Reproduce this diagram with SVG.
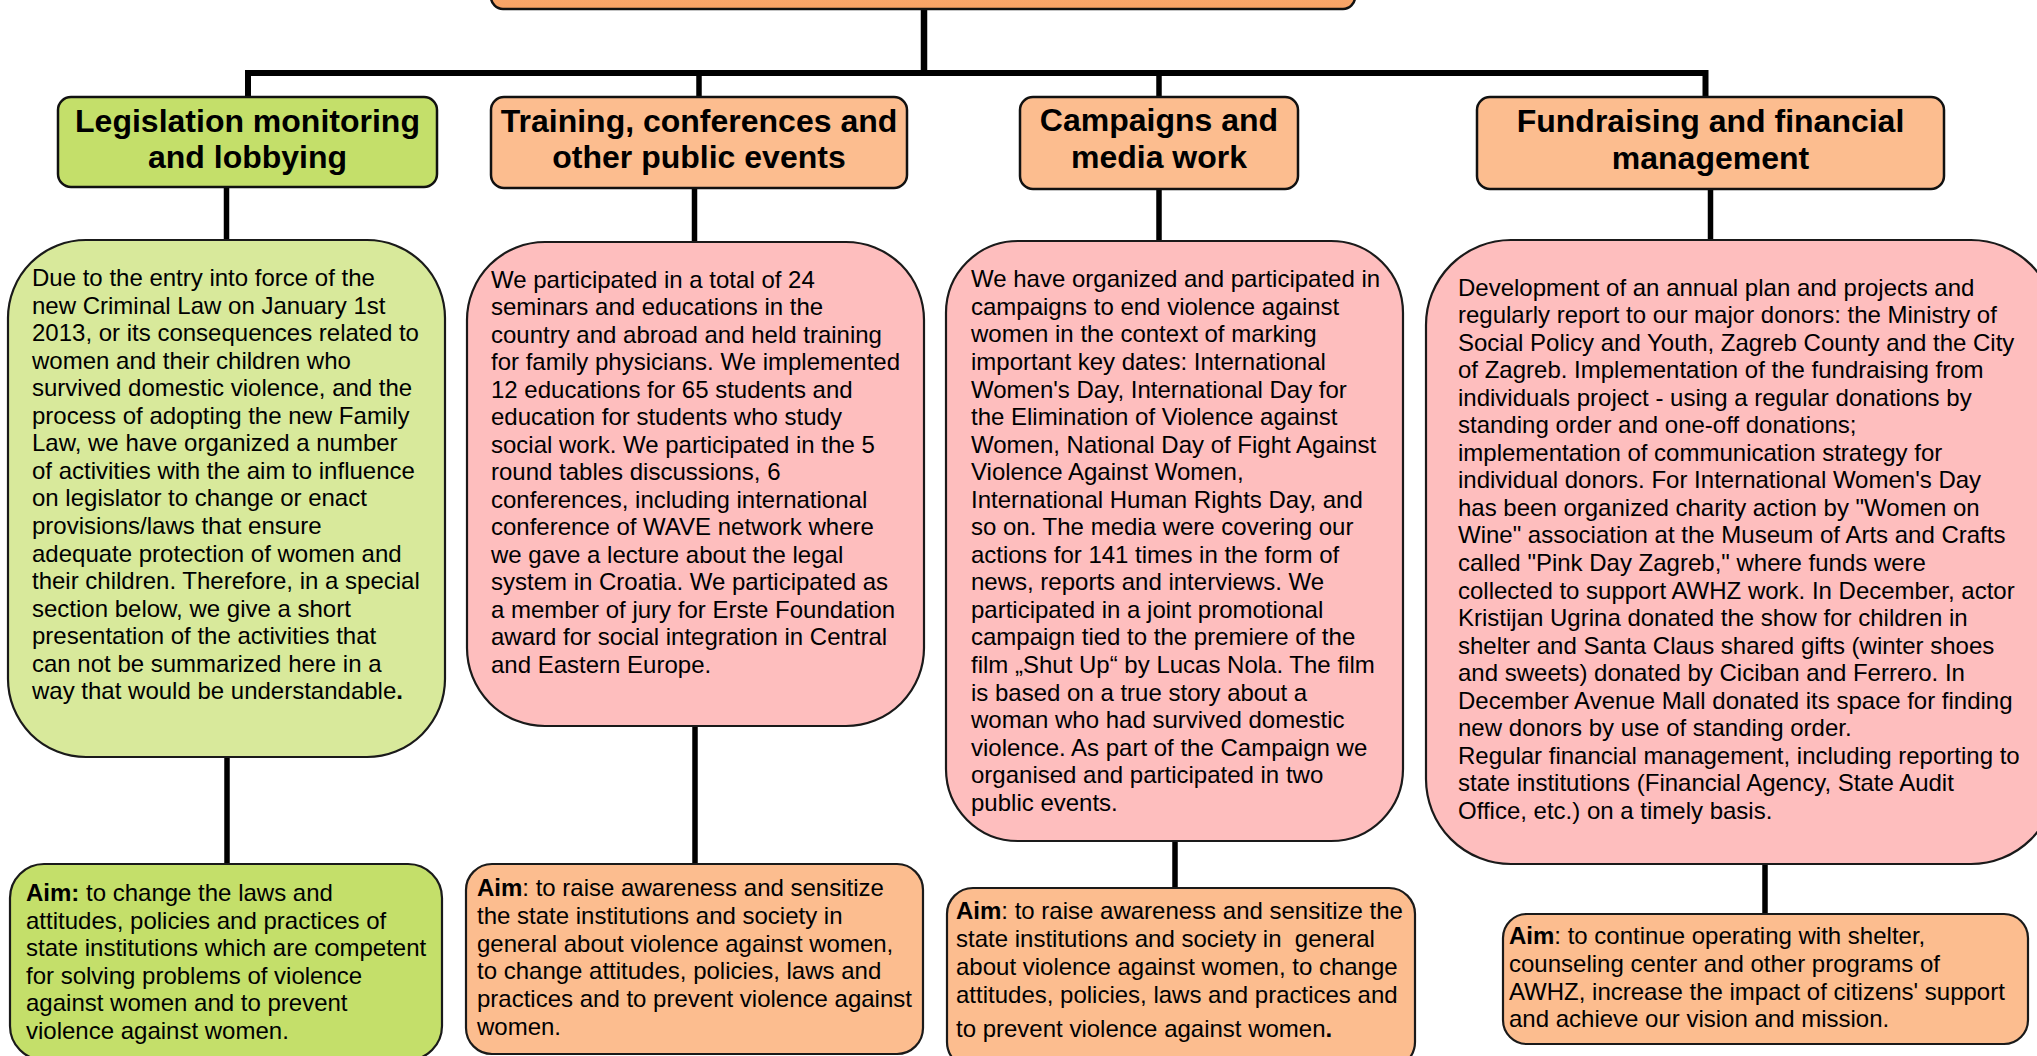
<svg xmlns="http://www.w3.org/2000/svg" width="2037" height="1056" viewBox="0 0 2037 1056">
<style>
.hdr{font-family:"Liberation Sans",Arial,sans-serif;font-weight:bold;font-size:32px;text-anchor:middle;fill:#000}
.txt{font-family:"Liberation Sans",Arial,sans-serif;font-size:24px;fill:#000}
.b{font-weight:bold}
.hbox{stroke:#111;stroke-width:2.5}
.dbox{stroke:#1a1a1a;stroke-width:2.2}
.green{fill:#C4DF6A}
.lgreen{fill:#D8E99B}
.orange{fill:#FCBD8F}
.pink{fill:#FEBEBE}
.conn{stroke:#000;fill:none;stroke-width:5.5}
</style>
<defs>
<linearGradient id="topg" x1="0" y1="0" x2="0" y2="1">
<stop offset="0" stop-color="#FBB07A"/>
<stop offset="1" stop-color="#F8A365"/>
</linearGradient>
</defs>
<rect width="2037" height="1056" fill="#fff"/>

<g id="connectors">
<path class="conn" d="M924,9 V73" style="stroke-width:6.5"/>
<path class="conn" d="M248,97 V73 H1705.5 V97" style="stroke-width:6" stroke-linejoin="miter"/>
<path class="conn" d="M699,73 V97"/>
<path class="conn" d="M1159,73 V97"/>
<path class="conn" d="M226.5,187 V240"/>
<path class="conn" d="M694.5,188 V242"/>
<path class="conn" d="M1159,189 V241"/>
<path class="conn" d="M1710.5,189 V240"/>
<path class="conn" d="M227,757 V864"/>
<path class="conn" d="M695,726 V864"/>
<path class="conn" d="M1175,841 V888"/>
<path class="conn" d="M1765,864 V914"/>
</g>

<g id="top">
<rect x="491" y="-50" width="864" height="59" rx="12" fill="url(#topg)" class="hbox"/>
</g>

<g id="h-legislation">
<rect x="58" y="97" width="379" height="90" rx="13" class="hbox green"/>
<text class="hdr"><tspan x="247.5" y="132">Legislation monitoring</tspan><tspan x="247.5" y="168">and lobbying</tspan></text>
</g>
<g id="h-training">
<rect x="491" y="97" width="416" height="91" rx="13" class="hbox orange"/>
<text class="hdr"><tspan x="699" y="132">Training, conferences and</tspan><tspan x="699" y="168">other public events</tspan></text>
</g>
<g id="h-campaigns">
<rect x="1020" y="97" width="278" height="92" rx="13" class="hbox orange"/>
<text class="hdr"><tspan x="1159" y="131">Campaigns and</tspan><tspan x="1159" y="168">media work</tspan></text>
</g>
<g id="h-fundraising">
<rect x="1477" y="97" width="467" height="92" rx="13" class="hbox orange"/>
<text class="hdr"><tspan x="1710.5" y="132">Fundraising and financial</tspan><tspan x="1710.5" y="169">management</tspan></text>
</g>

<g id="d-legislation">
<rect x="8" y="240" width="437" height="517" rx="78" class="dbox lgreen"/>
<text class="txt">
<tspan x="32" y="286">Due to the entry into force of the</tspan>
<tspan x="32" y="313.6">new Criminal Law on January 1st</tspan>
<tspan x="32" y="341.1">2013, or its consequences related to</tspan>
<tspan x="32" y="368.7">women and their children who</tspan>
<tspan x="32" y="396.2">survived domestic violence, and the</tspan>
<tspan x="32" y="423.8">process of adopting the new Family</tspan>
<tspan x="32" y="451.3">Law, we have organized a number</tspan>
<tspan x="32" y="478.9">of activities with the aim to influence</tspan>
<tspan x="32" y="506.4">on legislator to change or enact</tspan>
<tspan x="32" y="534">provisions/laws that ensure</tspan>
<tspan x="32" y="561.5">adequate protection of women and</tspan>
<tspan x="32" y="589.1">their children. Therefore, in a special</tspan>
<tspan x="32" y="616.6">section below, we give a short</tspan>
<tspan x="32" y="644.2">presentation of the activities that</tspan>
<tspan x="32" y="671.7">can not be summarized here in a</tspan>
<tspan x="32" y="699.3">way that would be understandable<tspan class="b">.</tspan></tspan>
</text>
</g>

<g id="d-training">
<rect x="467" y="242" width="457" height="484" rx="78" class="dbox pink"/>
<text class="txt">
<tspan x="491" y="287.5">We participated in a total of 24</tspan>
<tspan x="491" y="315">seminars and educations in the</tspan>
<tspan x="491" y="342.5">country and abroad and held training</tspan>
<tspan x="491" y="370">for family physicians. We implemented</tspan>
<tspan x="491" y="397.5">12 educations for 65 students and</tspan>
<tspan x="491" y="425">education for students who study</tspan>
<tspan x="491" y="452.5">social work. We participated in the 5</tspan>
<tspan x="491" y="480">round tables discussions, 6</tspan>
<tspan x="491" y="507.5">conferences, including international</tspan>
<tspan x="491" y="535">conference of WAVE network where</tspan>
<tspan x="491" y="562.5">we gave a lecture about the legal</tspan>
<tspan x="491" y="590">system in Croatia. We participated as</tspan>
<tspan x="491" y="617.5">a member of jury for Erste Foundation</tspan>
<tspan x="491" y="645">award for social integration in Central</tspan>
<tspan x="491" y="672.5">and Eastern Europe.</tspan>
</text>
</g>

<g id="d-campaigns">
<rect x="946" y="241" width="457" height="600" rx="72" class="dbox pink"/>
<text class="txt">
<tspan x="971" y="287.3">We have organized and participated in</tspan>
<tspan x="971" y="314.8">campaigns to end violence against</tspan>
<tspan x="971" y="342.4">women in the context of marking</tspan>
<tspan x="971" y="369.9">important key dates: International</tspan>
<tspan x="971" y="397.5">Women's Day, International Day for</tspan>
<tspan x="971" y="425">the Elimination of Violence against</tspan>
<tspan x="971" y="452.6">Women, National Day of Fight Against</tspan>
<tspan x="971" y="480.1">Violence Against Women,</tspan>
<tspan x="971" y="507.7">International Human Rights Day, and</tspan>
<tspan x="971" y="535.2">so on. The media were covering our</tspan>
<tspan x="971" y="562.8">actions for 141 times in the form of</tspan>
<tspan x="971" y="590.3">news, reports and interviews. We</tspan>
<tspan x="971" y="617.9">participated in a joint promotional</tspan>
<tspan x="971" y="645.4">campaign tied to the premiere of the</tspan>
<tspan x="971" y="673">film „Shut Up“ by Lucas Nola. The film</tspan>
<tspan x="971" y="700.5">is based on a true story about a</tspan>
<tspan x="971" y="728.1">woman who had survived domestic</tspan>
<tspan x="971" y="755.6">violence. As part of the Campaign we</tspan>
<tspan x="971" y="783.2">organised and participated in two</tspan>
<tspan x="971" y="810.7">public events.</tspan>
</text>
</g>

<g id="d-fundraising">
<rect x="1426" y="240" width="630" height="624" rx="85" class="dbox pink"/>
<text class="txt">
<tspan x="1458" y="295.5">Development of an annual plan and projects and</tspan>
<tspan x="1458" y="323">regularly report to our major donors: the Ministry of</tspan>
<tspan x="1458" y="350.6">Social Policy and Youth, Zagreb County and the City</tspan>
<tspan x="1458" y="378.1">of Zagreb. Implementation of the fundraising from</tspan>
<tspan x="1458" y="405.7">individuals project - using a regular donations by</tspan>
<tspan x="1458" y="433.2">standing order and one-off donations;</tspan>
<tspan x="1458" y="460.8">implementation of communication strategy for</tspan>
<tspan x="1458" y="488.3">individual donors. For International Women's Day</tspan>
<tspan x="1458" y="515.9">has been organized charity action by "Women on</tspan>
<tspan x="1458" y="543.4">Wine" association at the Museum of Arts and Crafts</tspan>
<tspan x="1458" y="571">called "Pink Day Zagreb," where funds were</tspan>
<tspan x="1458" y="598.5">collected to support AWHZ work. In December, actor</tspan>
<tspan x="1458" y="626.1">Kristijan Ugrina donated the show for children in</tspan>
<tspan x="1458" y="653.6">shelter and Santa Claus shared gifts (winter shoes</tspan>
<tspan x="1458" y="681.2">and sweets) donated by Ciciban and Ferrero. In</tspan>
<tspan x="1458" y="708.7">December Avenue Mall donated its space for finding</tspan>
<tspan x="1458" y="736.3">new donors by use of standing order.</tspan>
<tspan x="1458" y="763.8">Regular financial management, including reporting to</tspan>
<tspan x="1458" y="791.4">state institutions (Financial Agency, State Audit</tspan>
<tspan x="1458" y="818.9">Office, etc.) on a timely basis.</tspan>
</text>
</g>

<g id="a-legislation">
<rect x="10" y="864" width="432" height="196" rx="34" class="dbox green"/>
<text class="txt">
<tspan x="26" y="901"><tspan class="b">Aim:</tspan> to change the laws and</tspan>
<tspan x="26" y="928.5">attitudes, policies and practices of</tspan>
<tspan x="26" y="956">state institutions which are competent</tspan>
<tspan x="26" y="983.5">for solving problems of violence</tspan>
<tspan x="26" y="1011">against women and to prevent</tspan>
<tspan x="26" y="1038.5">violence against women.</tspan>
</text>
</g>

<g id="a-training">
<rect x="466" y="864" width="457" height="190" rx="26" class="dbox orange"/>
<text class="txt">
<tspan x="477" y="896"><tspan class="b">Aim</tspan>: to raise awareness and sensitize</tspan>
<tspan x="477" y="923.8">the state institutions and society in</tspan>
<tspan x="477" y="951.6">general about violence against women,</tspan>
<tspan x="477" y="979.4">to change attitudes, policies, laws and</tspan>
<tspan x="477" y="1007.2">practices and to prevent violence against</tspan>
<tspan x="477" y="1035">women.</tspan>
</text>
</g>

<g id="a-campaigns">
<rect x="947" y="888" width="468" height="180" rx="26" class="dbox orange"/>
<text class="txt">
<tspan x="956" y="919"><tspan class="b">Aim</tspan>: to raise awareness and sensitize the</tspan>
<tspan x="956" y="947">state institutions and society in&#160; general</tspan>
<tspan x="956" y="975">about violence against women, to change</tspan>
<tspan x="956" y="1003">attitudes, policies, laws and practices and</tspan>
<tspan x="956" y="1037">to prevent violence against women<tspan class="b">.</tspan></tspan>
</text>
</g>

<g id="a-fundraising">
<rect x="1503" y="914" width="525" height="130" rx="24" class="dbox orange"/>
<text class="txt">
<tspan x="1509" y="944"><tspan class="b">Aim</tspan>: to continue operating with shelter,</tspan>
<tspan x="1509" y="972">counseling center and other programs of</tspan>
<tspan x="1509" y="1000">AWHZ, increase the impact of citizens' support</tspan>
<tspan x="1509" y="1027">and achieve our vision and mission.</tspan>
</text>
</g>
</svg>
